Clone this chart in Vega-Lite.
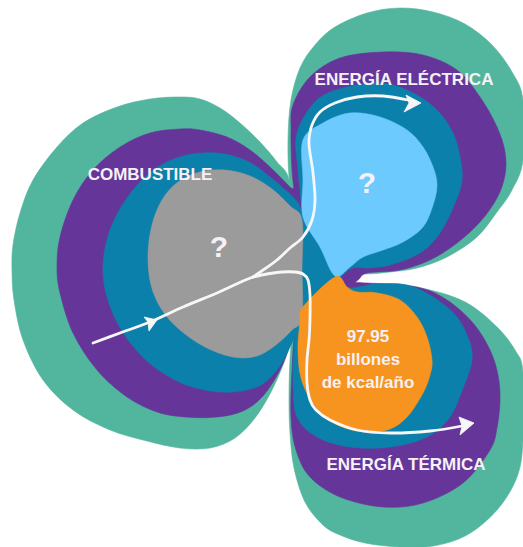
{
  "$schema": "https://vega.github.io/schema/vega-lite/v6.json",
  "width": 523,
  "height": 547,
  "padding": 0,
  "autosize": "none",
  "background": "#ffffff",
  "config": {"view": {"stroke": null}},
  "projection": {"type": "identity"},
  "datasets": {
    "marco": [
      {"type": "Feature", "properties": {"capa": "fondo"}, "geometry": {"type": "Polygon", "coordinates": [[[0,0],[523,0],[523,547],[0,547],[0,0]]]}}
    ],
    "contornos": [
      {"forma":"L1","capa":"exterior","i":0,"x":290,"y":182},{"forma":"L1","capa":"exterior","i":1,"x":277,"y":162},{"forma":"L1","capa":"exterior","i":2,"x":260,"y":142},{"forma":"L1","capa":"exterior","i":3,"x":240,"y":123},{"forma":"L1","capa":"exterior","i":4,"x":220,"y":108},{"forma":"L1","capa":"exterior","i":5,"x":200,"y":99},{"forma":"L1","capa":"exterior","i":6,"x":180,"y":97},{"forma":"L1","capa":"exterior","i":7,"x":150,"y":99},{"forma":"L1","capa":"exterior","i":8,"x":117,"y":107},{"forma":"L1","capa":"exterior","i":9,"x":83,"y":123},{"forma":"L1","capa":"exterior","i":10,"x":57,"y":147},{"forma":"L1","capa":"exterior","i":11,"x":33,"y":180},{"forma":"L1","capa":"exterior","i":12,"x":20,"y":213},{"forma":"L1","capa":"exterior","i":13,"x":13,"y":245},{"forma":"L1","capa":"exterior","i":14,"x":12,"y":270},{"forma":"L1","capa":"exterior","i":15,"x":14,"y":300},{"forma":"L1","capa":"exterior","i":16,"x":23,"y":340},{"forma":"L1","capa":"exterior","i":17,"x":43,"y":380},{"forma":"L1","capa":"exterior","i":18,"x":73,"y":410},{"forma":"L1","capa":"exterior","i":19,"x":110,"y":430},{"forma":"L1","capa":"exterior","i":20,"x":147,"y":441},{"forma":"L1","capa":"exterior","i":21,"x":180,"y":448},{"forma":"L1","capa":"exterior","i":22,"x":210,"y":448},{"forma":"L1","capa":"exterior","i":23,"x":235,"y":438},{"forma":"L1","capa":"exterior","i":24,"x":255,"y":418},{"forma":"L1","capa":"exterior","i":25,"x":271,"y":392},{"forma":"L1","capa":"exterior","i":26,"x":283,"y":365},{"forma":"L1","capa":"exterior","i":27,"x":292,"y":338},{"forma":"L1","capa":"exterior","i":28,"x":298,"y":318},{"forma":"L1","capa":"exterior","i":29,"x":302,"y":250},
      {"forma":"T1","capa":"exterior","i":0,"x":290,"y":184},{"forma":"T1","capa":"exterior","i":1,"x":288,"y":140},{"forma":"T1","capa":"exterior","i":2,"x":291,"y":100},{"forma":"T1","capa":"exterior","i":3,"x":300,"y":68},{"forma":"T1","capa":"exterior","i":4,"x":315,"y":45},{"forma":"T1","capa":"exterior","i":5,"x":335,"y":27},{"forma":"T1","capa":"exterior","i":6,"x":367,"y":13},{"forma":"T1","capa":"exterior","i":7,"x":400,"y":8},{"forma":"T1","capa":"exterior","i":8,"x":433,"y":12},{"forma":"T1","capa":"exterior","i":9,"x":465,"y":24},{"forma":"T1","capa":"exterior","i":10,"x":492,"y":45},{"forma":"T1","capa":"exterior","i":11,"x":512,"y":72},{"forma":"T1","capa":"exterior","i":12,"x":523,"y":100},{"forma":"T1","capa":"exterior","i":13,"x":523,"y":160},{"forma":"T1","capa":"exterior","i":14,"x":512,"y":190},{"forma":"T1","capa":"exterior","i":15,"x":497,"y":212},{"forma":"T1","capa":"exterior","i":16,"x":477,"y":237},{"forma":"T1","capa":"exterior","i":17,"x":447,"y":257},{"forma":"T1","capa":"exterior","i":18,"x":417,"y":268},{"forma":"T1","capa":"exterior","i":19,"x":390,"y":272},{"forma":"T1","capa":"exterior","i":20,"x":365,"y":274},{"forma":"T1","capa":"exterior","i":21,"x":345,"y":272},{"forma":"T1","capa":"exterior","i":22,"x":320,"y":250},{"forma":"T1","capa":"exterior","i":23,"x":300,"y":215},
      {"forma":"B1","capa":"exterior","i":0,"x":293,"y":330},{"forma":"B1","capa":"exterior","i":1,"x":300,"y":300},{"forma":"B1","capa":"exterior","i":2,"x":340,"y":287},{"forma":"B1","capa":"exterior","i":3,"x":390,"y":285},{"forma":"B1","capa":"exterior","i":4,"x":430,"y":290},{"forma":"B1","capa":"exterior","i":5,"x":467,"y":303},{"forma":"B1","capa":"exterior","i":6,"x":497,"y":327},{"forma":"B1","capa":"exterior","i":7,"x":515,"y":350},{"forma":"B1","capa":"exterior","i":8,"x":523,"y":372},{"forma":"B1","capa":"exterior","i":9,"x":523,"y":440},{"forma":"B1","capa":"exterior","i":10,"x":517,"y":477},{"forma":"B1","capa":"exterior","i":11,"x":497,"y":510},{"forma":"B1","capa":"exterior","i":12,"x":467,"y":535},{"forma":"B1","capa":"exterior","i":13,"x":433,"y":546},{"forma":"B1","capa":"exterior","i":14,"x":400,"y":547},{"forma":"B1","capa":"exterior","i":15,"x":365,"y":543},{"forma":"B1","capa":"exterior","i":16,"x":340,"y":535},{"forma":"B1","capa":"exterior","i":17,"x":323,"y":525},{"forma":"B1","capa":"exterior","i":18,"x":305,"y":502},{"forma":"B1","capa":"exterior","i":19,"x":294,"y":468},{"forma":"B1","capa":"exterior","i":20,"x":290,"y":433},{"forma":"B1","capa":"exterior","i":21,"x":289,"y":400},{"forma":"B1","capa":"exterior","i":22,"x":290,"y":360},
      {"forma":"L2","capa":"media","i":0,"x":297,"y":195},{"forma":"L2","capa":"media","i":1,"x":290,"y":187},{"forma":"L2","capa":"media","i":2,"x":270,"y":167},{"forma":"L2","capa":"media","i":3,"x":250,"y":150},{"forma":"L2","capa":"media","i":4,"x":227,"y":137},{"forma":"L2","capa":"media","i":5,"x":200,"y":130},{"forma":"L2","capa":"media","i":6,"x":180,"y":129},{"forma":"L2","capa":"media","i":7,"x":150,"y":133},{"forma":"L2","capa":"media","i":8,"x":120,"y":147},{"forma":"L2","capa":"media","i":9,"x":93,"y":170},{"forma":"L2","capa":"media","i":10,"x":73,"y":200},{"forma":"L2","capa":"media","i":11,"x":60,"y":237},{"forma":"L2","capa":"media","i":12,"x":57,"y":267},{"forma":"L2","capa":"media","i":13,"x":60,"y":293},{"forma":"L2","capa":"media","i":14,"x":73,"y":333},{"forma":"L2","capa":"media","i":15,"x":97,"y":370},{"forma":"L2","capa":"media","i":16,"x":127,"y":397},{"forma":"L2","capa":"media","i":17,"x":157,"y":412},{"forma":"L2","capa":"media","i":18,"x":185,"y":417},{"forma":"L2","capa":"media","i":19,"x":217,"y":417},{"forma":"L2","capa":"media","i":20,"x":243,"y":411},{"forma":"L2","capa":"media","i":21,"x":263,"y":396},{"forma":"L2","capa":"media","i":22,"x":280,"y":370},{"forma":"L2","capa":"media","i":23,"x":290,"y":345},{"forma":"L2","capa":"media","i":24,"x":297,"y":325},{"forma":"L2","capa":"media","i":25,"x":302,"y":260},
      {"forma":"T2","capa":"media","i":0,"x":296,"y":205},{"forma":"T2","capa":"media","i":1,"x":292,"y":170},{"forma":"T2","capa":"media","i":2,"x":291,"y":130},{"forma":"T2","capa":"media","i":3,"x":293,"y":105},{"forma":"T2","capa":"media","i":4,"x":310,"y":77},{"forma":"T2","capa":"media","i":5,"x":340,"y":58},{"forma":"T2","capa":"media","i":6,"x":383,"y":52},{"forma":"T2","capa":"media","i":7,"x":423,"y":55},{"forma":"T2","capa":"media","i":8,"x":457,"y":70},{"forma":"T2","capa":"media","i":9,"x":480,"y":97},{"forma":"T2","capa":"media","i":10,"x":497,"y":127},{"forma":"T2","capa":"media","i":11,"x":505,"y":152},{"forma":"T2","capa":"media","i":12,"x":505,"y":175},{"forma":"T2","capa":"media","i":13,"x":497,"y":198},{"forma":"T2","capa":"media","i":14,"x":480,"y":222},{"forma":"T2","capa":"media","i":15,"x":457,"y":243},{"forma":"T2","capa":"media","i":16,"x":430,"y":260},{"forma":"T2","capa":"media","i":17,"x":400,"y":270},{"forma":"T2","capa":"media","i":18,"x":367,"y":273},{"forma":"T2","capa":"media","i":19,"x":358,"y":280},{"forma":"T2","capa":"media","i":20,"x":345,"y":288},{"forma":"T2","capa":"media","i":21,"x":320,"y":285},{"forma":"T2","capa":"media","i":22,"x":302,"y":260},
      {"forma":"B2","capa":"media","i":0,"x":295,"y":330},{"forma":"B2","capa":"media","i":1,"x":302,"y":295},{"forma":"B2","capa":"media","i":2,"x":340,"y":283},{"forma":"B2","capa":"media","i":3,"x":367,"y":283},{"forma":"B2","capa":"media","i":4,"x":417,"y":287},{"forma":"B2","capa":"media","i":5,"x":447,"y":300},{"forma":"B2","capa":"media","i":6,"x":473,"y":323},{"forma":"B2","capa":"media","i":7,"x":490,"y":350},{"forma":"B2","capa":"media","i":8,"x":498,"y":375},{"forma":"B2","capa":"media","i":9,"x":500,"y":400},{"forma":"B2","capa":"media","i":10,"x":497,"y":428},{"forma":"B2","capa":"media","i":11,"x":490,"y":450},{"forma":"B2","capa":"media","i":12,"x":463,"y":483},{"forma":"B2","capa":"media","i":13,"x":423,"y":503},{"forma":"B2","capa":"media","i":14,"x":383,"y":507},{"forma":"B2","capa":"media","i":15,"x":340,"y":497},{"forma":"B2","capa":"media","i":16,"x":310,"y":477},{"forma":"B2","capa":"media","i":17,"x":296,"y":450},{"forma":"B2","capa":"media","i":18,"x":291,"y":417},{"forma":"B2","capa":"media","i":19,"x":292,"y":370},
      {"forma":"L3","capa":"interior","i":0,"x":300,"y":207},{"forma":"L3","capa":"interior","i":1,"x":293,"y":197},{"forma":"L3","capa":"interior","i":2,"x":270,"y":177},{"forma":"L3","capa":"interior","i":3,"x":247,"y":161},{"forma":"L3","capa":"interior","i":4,"x":217,"y":153},{"forma":"L3","capa":"interior","i":5,"x":183,"y":156},{"forma":"L3","capa":"interior","i":6,"x":152,"y":171},{"forma":"L3","capa":"interior","i":7,"x":127,"y":198},{"forma":"L3","capa":"interior","i":8,"x":110,"y":230},{"forma":"L3","capa":"interior","i":9,"x":103,"y":265},{"forma":"L3","capa":"interior","i":10,"x":107,"y":297},{"forma":"L3","capa":"interior","i":11,"x":122,"y":331},{"forma":"L3","capa":"interior","i":12,"x":147,"y":361},{"forma":"L3","capa":"interior","i":13,"x":177,"y":381},{"forma":"L3","capa":"interior","i":14,"x":205,"y":390},{"forma":"L3","capa":"interior","i":15,"x":233,"y":392},{"forma":"L3","capa":"interior","i":16,"x":259,"y":386},{"forma":"L3","capa":"interior","i":17,"x":277,"y":370},{"forma":"L3","capa":"interior","i":18,"x":290,"y":347},{"forma":"L3","capa":"interior","i":19,"x":298,"y":327},{"forma":"L3","capa":"interior","i":20,"x":302,"y":300},{"forma":"L3","capa":"interior","i":21,"x":302,"y":260},{"forma":"L3","capa":"interior","i":22,"x":302,"y":220},
      {"forma":"T3","capa":"interior","i":0,"x":302,"y":320},{"forma":"T3","capa":"interior","i":1,"x":302,"y":270},{"forma":"T3","capa":"interior","i":2,"x":302,"y":215},{"forma":"T3","capa":"interior","i":3,"x":298,"y":170},{"forma":"T3","capa":"interior","i":4,"x":297,"y":133},{"forma":"T3","capa":"interior","i":5,"x":317,"y":100},{"forma":"T3","capa":"interior","i":6,"x":347,"y":87},{"forma":"T3","capa":"interior","i":7,"x":383,"y":83},{"forma":"T3","capa":"interior","i":8,"x":413,"y":93},{"forma":"T3","capa":"interior","i":9,"x":437,"y":110},{"forma":"T3","capa":"interior","i":10,"x":453,"y":133},{"forma":"T3","capa":"interior","i":11,"x":460,"y":157},{"forma":"T3","capa":"interior","i":12,"x":462,"y":180},{"forma":"T3","capa":"interior","i":13,"x":455,"y":203},{"forma":"T3","capa":"interior","i":14,"x":440,"y":233},{"forma":"T3","capa":"interior","i":15,"x":420,"y":253},{"forma":"T3","capa":"interior","i":16,"x":390,"y":265},{"forma":"T3","capa":"interior","i":17,"x":367,"y":268},{"forma":"T3","capa":"interior","i":18,"x":352,"y":268},{"forma":"T3","capa":"interior","i":19,"x":340,"y":278},{"forma":"T3","capa":"interior","i":20,"x":335,"y":285},
      {"forma":"B3","capa":"interior","i":0,"x":300,"y":318},{"forma":"B3","capa":"interior","i":1,"x":335,"y":284},{"forma":"B3","capa":"interior","i":2,"x":350,"y":288},{"forma":"B3","capa":"interior","i":3,"x":377,"y":284},{"forma":"B3","capa":"interior","i":4,"x":407,"y":285},{"forma":"B3","capa":"interior","i":5,"x":433,"y":297},{"forma":"B3","capa":"interior","i":6,"x":457,"y":317},{"forma":"B3","capa":"interior","i":7,"x":470,"y":343},{"forma":"B3","capa":"interior","i":8,"x":472,"y":360},{"forma":"B3","capa":"interior","i":9,"x":468,"y":375},{"forma":"B3","capa":"interior","i":10,"x":463,"y":388},{"forma":"B3","capa":"interior","i":11,"x":450,"y":417},{"forma":"B3","capa":"interior","i":12,"x":427,"y":437},{"forma":"B3","capa":"interior","i":13,"x":390,"y":447},{"forma":"B3","capa":"interior","i":14,"x":350,"y":447},{"forma":"B3","capa":"interior","i":15,"x":317,"y":437},{"forma":"B3","capa":"interior","i":16,"x":297,"y":417},{"forma":"B3","capa":"interior","i":17,"x":293,"y":383},{"forma":"B3","capa":"interior","i":18,"x":294,"y":350},
      {"forma":"L4","capa":"combustible","i":0,"x":302,"y":220},{"forma":"L4","capa":"combustible","i":1,"x":290,"y":206},{"forma":"L4","capa":"combustible","i":2,"x":272,"y":189},{"forma":"L4","capa":"combustible","i":3,"x":250,"y":176},{"forma":"L4","capa":"combustible","i":4,"x":225,"y":170},{"forma":"L4","capa":"combustible","i":5,"x":200,"y":172},{"forma":"L4","capa":"combustible","i":6,"x":178,"y":182},{"forma":"L4","capa":"combustible","i":7,"x":162,"y":200},{"forma":"L4","capa":"combustible","i":8,"x":152,"y":225},{"forma":"L4","capa":"combustible","i":9,"x":148,"y":255},{"forma":"L4","capa":"combustible","i":10,"x":151,"y":285},{"forma":"L4","capa":"combustible","i":11,"x":162,"y":310},{"forma":"L4","capa":"combustible","i":12,"x":180,"y":330},{"forma":"L4","capa":"combustible","i":13,"x":205,"y":347},{"forma":"L4","capa":"combustible","i":14,"x":233,"y":357},{"forma":"L4","capa":"combustible","i":15,"x":257,"y":356},{"forma":"L4","capa":"combustible","i":16,"x":277,"y":344},{"forma":"L4","capa":"combustible","i":17,"x":292,"y":330},{"forma":"L4","capa":"combustible","i":18,"x":302,"y":318},{"forma":"L4","capa":"combustible","i":19,"x":302,"y":270},
      {"forma":"T4","capa":"eléctrica","i":0,"x":303,"y":217},{"forma":"T4","capa":"eléctrica","i":1,"x":303,"y":180},{"forma":"T4","capa":"eléctrica","i":2,"x":303,"y":140},{"forma":"T4","capa":"eléctrica","i":3,"x":323,"y":123},{"forma":"T4","capa":"eléctrica","i":4,"x":350,"y":113},{"forma":"T4","capa":"eléctrica","i":5,"x":380,"y":117},{"forma":"T4","capa":"eléctrica","i":6,"x":407,"y":130},{"forma":"T4","capa":"eléctrica","i":7,"x":423,"y":147},{"forma":"T4","capa":"eléctrica","i":8,"x":433,"y":167},{"forma":"T4","capa":"eléctrica","i":9,"x":437,"y":185},{"forma":"T4","capa":"eléctrica","i":10,"x":433,"y":205},{"forma":"T4","capa":"eléctrica","i":11,"x":423,"y":227},{"forma":"T4","capa":"eléctrica","i":12,"x":403,"y":242},{"forma":"T4","capa":"eléctrica","i":13,"x":383,"y":250},{"forma":"T4","capa":"eléctrica","i":14,"x":363,"y":257},{"forma":"T4","capa":"eléctrica","i":15,"x":350,"y":267},{"forma":"T4","capa":"eléctrica","i":16,"x":335,"y":276},{"forma":"T4","capa":"eléctrica","i":17,"x":320,"y":247},
      {"forma":"B4","capa":"térmica","i":0,"x":335,"y":277},{"forma":"B4","capa":"térmica","i":1,"x":347,"y":287},{"forma":"B4","capa":"térmica","i":2,"x":357,"y":292},{"forma":"B4","capa":"térmica","i":3,"x":377,"y":293},{"forma":"B4","capa":"térmica","i":4,"x":400,"y":300},{"forma":"B4","capa":"térmica","i":5,"x":417,"y":317},{"forma":"B4","capa":"térmica","i":6,"x":427,"y":337},{"forma":"B4","capa":"térmica","i":7,"x":432,"y":360},{"forma":"B4","capa":"térmica","i":8,"x":430,"y":375},{"forma":"B4","capa":"térmica","i":9,"x":423,"y":393},{"forma":"B4","capa":"térmica","i":10,"x":407,"y":417},{"forma":"B4","capa":"térmica","i":11,"x":387,"y":430},{"forma":"B4","capa":"térmica","i":12,"x":357,"y":431},{"forma":"B4","capa":"térmica","i":13,"x":330,"y":421},{"forma":"B4","capa":"térmica","i":14,"x":312,"y":402},{"forma":"B4","capa":"térmica","i":15,"x":301,"y":378},{"forma":"B4","capa":"térmica","i":16,"x":298,"y":350},{"forma":"B4","capa":"térmica","i":17,"x":300,"y":322},{"forma":"B4","capa":"térmica","i":18,"x":303,"y":307}
    ],
    "flujos": [
      {"tramo":"entrada","i":0,"x":93,"y":343},{"tramo":"entrada","i":1,"x":120,"y":333},{"tramo":"entrada","i":2,"x":150,"y":322},{"tramo":"entrada","i":3,"x":183,"y":307},{"tramo":"entrada","i":4,"x":217,"y":293},{"tramo":"entrada","i":5,"x":243,"y":281},{"tramo":"entrada","i":6,"x":253,"y":277},
      {"tramo":"eléctrica","i":0,"x":253,"y":277},{"tramo":"eléctrica","i":1,"x":266,"y":268},{"tramo":"eléctrica","i":2,"x":277,"y":260},{"tramo":"eléctrica","i":3,"x":290,"y":248},{"tramo":"eléctrica","i":4,"x":303,"y":237},{"tramo":"eléctrica","i":5,"x":312,"y":220},{"tramo":"eléctrica","i":6,"x":315,"y":200},{"tramo":"eléctrica","i":7,"x":313,"y":173},{"tramo":"eléctrica","i":8,"x":310,"y":153},{"tramo":"eléctrica","i":9,"x":309,"y":140},{"tramo":"eléctrica","i":10,"x":312,"y":125},{"tramo":"eléctrica","i":11,"x":320,"y":112},{"tramo":"eléctrica","i":12,"x":335,"y":103},{"tramo":"eléctrica","i":13,"x":357,"y":97},{"tramo":"eléctrica","i":14,"x":383,"y":96},{"tramo":"eléctrica","i":15,"x":408,"y":100},
      {"tramo":"térmica","i":0,"x":253,"y":277},{"tramo":"térmica","i":1,"x":267,"y":274},{"tramo":"térmica","i":2,"x":282,"y":272},{"tramo":"térmica","i":3,"x":295,"y":272},{"tramo":"térmica","i":4,"x":303,"y":274},{"tramo":"térmica","i":5,"x":308,"y":280},{"tramo":"térmica","i":6,"x":310,"y":295},{"tramo":"térmica","i":7,"x":310,"y":320},{"tramo":"térmica","i":8,"x":309,"y":340},{"tramo":"térmica","i":9,"x":307,"y":360},{"tramo":"térmica","i":10,"x":307,"y":383},{"tramo":"térmica","i":11,"x":310,"y":400},{"tramo":"térmica","i":12,"x":316,"y":410},{"tramo":"térmica","i":13,"x":330,"y":420},{"tramo":"térmica","i":14,"x":357,"y":430},{"tramo":"térmica","i":15,"x":390,"y":433},{"tramo":"térmica","i":16,"x":430,"y":431},{"tramo":"térmica","i":17,"x":462,"y":426}
    ],
    "puntas": [
      {"type": "Feature", "properties": {"tramo": "entrada"}, "geometry": {"type": "Polygon", "coordinates": [[[157,320],[144,317],[148,322],[149,331],[157,320]]]}},
      {"type": "Feature", "properties": {"tramo": "eléctrica"}, "geometry": {"type": "Polygon", "coordinates": [[[421,103],[406,95],[409,103],[404,112],[421,103]]]}},
      {"type": "Feature", "properties": {"tramo": "térmica"}, "geometry": {"type": "Polygon", "coordinates": [[[474,423],[459,417],[462,426],[460,435],[474,423]]]}}
    ],
    "textos": [
      {"etiqueta": "COMBUSTIBLE", "tipo": "nombre", "x": 150, "y": 180},
      {"etiqueta": "ENERGÍA ELÉCTRICA", "tipo": "nombre", "x": 404, "y": 85},
      {"etiqueta": "ENERGÍA TÉRMICA", "tipo": "nombre", "x": 406, "y": 470},
      {"etiqueta": "?", "tipo": "valor", "x": 219, "y": 257},
      {"etiqueta": "?", "tipo": "valor", "x": 367, "y": 193},
      {"etiqueta": "97.95\nbillones\nde kcal/año", "tipo": "dato", "x": 368, "y": 342}
    ]
  },
  "layer": [
    {
      "data": {"name": "marco"},
      "mark": {"type": "geoshape", "fill": "#ffffff", "stroke": null},
      "encoding": {}
    },
    {
      "data": {"name": "contornos"},
      "transform": [{"filter": "datum.capa === 'exterior'"}],
      "mark": {"type": "line", "interpolate": "cardinal-closed", "filled": true, "fill": "#52b69f", "stroke": "#52b69f", "strokeWidth": 0.6},
      "encoding": {
        "longitude": {"field": "x", "type": "quantitative"},
        "latitude": {"field": "y", "type": "quantitative"},
        "detail": {"field": "forma", "type": "nominal"},
        "order": {"field": "i", "type": "quantitative"}
      }
    },
    {
      "data": {"name": "contornos"},
      "transform": [{"filter": "datum.capa === 'media'"}],
      "mark": {"type": "line", "interpolate": "cardinal-closed", "filled": true, "fill": "#66359a", "stroke": "#66359a", "strokeWidth": 0.6},
      "encoding": {
        "longitude": {"field": "x", "type": "quantitative"},
        "latitude": {"field": "y", "type": "quantitative"},
        "detail": {"field": "forma", "type": "nominal"},
        "order": {"field": "i", "type": "quantitative"}
      }
    },
    {
      "data": {"name": "contornos"},
      "transform": [{"filter": "datum.capa === 'interior'"}],
      "mark": {"type": "line", "interpolate": "cardinal-closed", "filled": true, "fill": "#0b80aa", "stroke": "#0b80aa", "strokeWidth": 0.6},
      "encoding": {
        "longitude": {"field": "x", "type": "quantitative"},
        "latitude": {"field": "y", "type": "quantitative"},
        "detail": {"field": "forma", "type": "nominal"},
        "order": {"field": "i", "type": "quantitative"}
      }
    },
    {
      "data": {"name": "contornos"},
      "transform": [{"filter": "datum.capa === 'combustible'"}],
      "mark": {"type": "line", "interpolate": "cardinal-closed", "filled": true, "fill": "#9b9b9b", "stroke": "#9b9b9b", "strokeWidth": 0.6},
      "encoding": {
        "longitude": {"field": "x", "type": "quantitative"},
        "latitude": {"field": "y", "type": "quantitative"},
        "order": {"field": "i", "type": "quantitative"}
      }
    },
    {
      "data": {"name": "contornos"},
      "transform": [{"filter": "datum.capa === 'eléctrica'"}],
      "mark": {"type": "line", "interpolate": "cardinal-closed", "filled": true, "fill": "#6ccaff", "stroke": "#6ccaff", "strokeWidth": 0.6},
      "encoding": {
        "longitude": {"field": "x", "type": "quantitative"},
        "latitude": {"field": "y", "type": "quantitative"},
        "order": {"field": "i", "type": "quantitative"}
      }
    },
    {
      "data": {"name": "contornos"},
      "transform": [{"filter": "datum.capa === 'térmica'"}],
      "mark": {"type": "line", "interpolate": "cardinal-closed", "filled": true, "fill": "#f7941f", "stroke": "#f7941f", "strokeWidth": 0.6},
      "encoding": {
        "longitude": {"field": "x", "type": "quantitative"},
        "latitude": {"field": "y", "type": "quantitative"},
        "order": {"field": "i", "type": "quantitative"}
      }
    },
    {
      "data": {"name": "flujos"},
      "mark": {"type": "line", "interpolate": "cardinal", "stroke": "#f7f7f7", "strokeWidth": 2.8, "strokeCap": "round", "strokeJoin": "round"},
      "encoding": {
        "longitude": {"field": "x", "type": "quantitative"},
        "latitude": {"field": "y", "type": "quantitative"},
        "detail": {"field": "tramo", "type": "nominal"},
        "order": {"field": "i", "type": "quantitative"}
      }
    },
    {
      "data": {"name": "puntas"},
      "mark": {"type": "geoshape", "fill": "#f7f7f7", "stroke": "#f7f7f7", "strokeWidth": 0.8},
      "encoding": {}
    },
    {
      "data": {"name": "textos"},
      "transform": [{"filter": "datum.tipo === 'nombre'"}],
      "mark": {"type": "text", "font": "Liberation Sans", "fontWeight": "bold", "fontSize": 17, "fill": "#f6f1f7", "align": "center", "baseline": "alphabetic"},
      "encoding": {
        "longitude": {"field": "x", "type": "quantitative"},
        "latitude": {"field": "y", "type": "quantitative"},
        "text": {"field": "etiqueta"}
      }
    },
    {
      "data": {"name": "textos"},
      "transform": [{"filter": "datum.tipo === 'valor'"}],
      "mark": {"type": "text", "font": "Liberation Sans", "fontWeight": "bold", "fontSize": 30, "fill": "#f6f1f7", "align": "center", "baseline": "alphabetic"},
      "encoding": {
        "longitude": {"field": "x", "type": "quantitative"},
        "latitude": {"field": "y", "type": "quantitative"},
        "text": {"field": "etiqueta"}
      }
    },
    {
      "data": {"name": "textos"},
      "transform": [{"filter": "datum.tipo === 'dato'"}],
      "mark": {"type": "text", "font": "Liberation Sans", "fontWeight": "bold", "fontSize": 17, "lineHeight": 23, "lineBreak": "\n", "fill": "#f6f1f7", "align": "center", "baseline": "alphabetic"},
      "encoding": {
        "longitude": {"field": "x", "type": "quantitative"},
        "latitude": {"field": "y", "type": "quantitative"},
        "text": {"field": "etiqueta"}
      }
    }
  ]
}
